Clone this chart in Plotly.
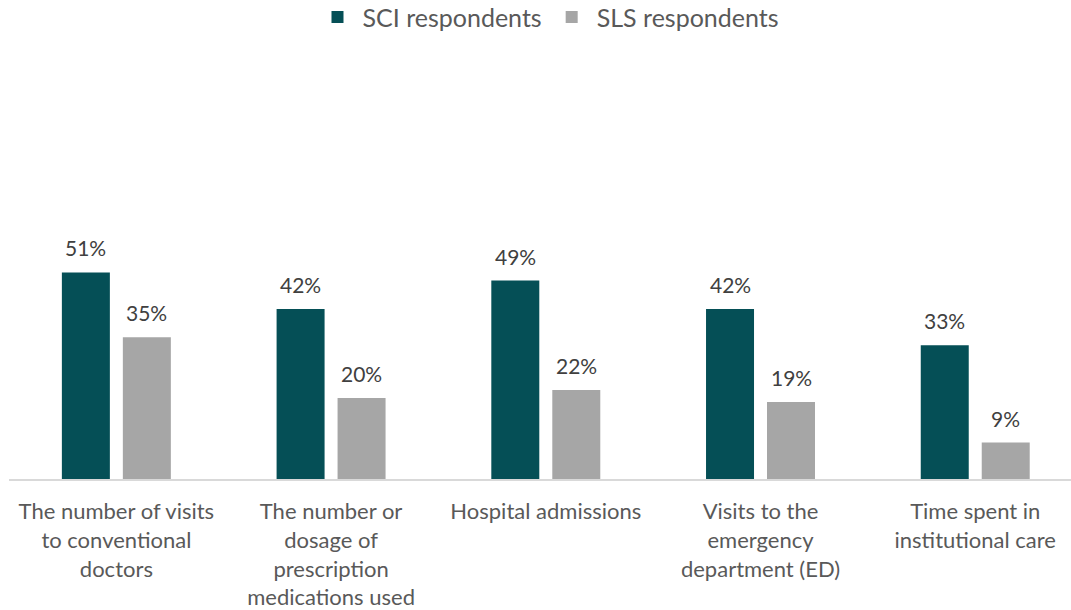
import plotly.graph_objects as go

categories = [
    "The number of visits<br>to conventional<br>doctors",
    "The number or<br>dosage of<br>prescription<br>medications used",
    "Hospital admissions",
    "Visits to the<br>emergency<br>department (ED)",
    "Time spent in<br>institutional care",
]
sci_values = [51, 42, 49, 42, 33]
sls_values = [35, 20, 22, 19, 9]
series_names = ["SCI respondents", "SLS respondents"]
colors = ["#054F56", "#A6A6A6"]

FONT = "Lato, 'Open Sans', sans-serif"

fig = go.Figure()
for name, vals, col in zip(series_names, [sci_values, sls_values], colors):
    fig.add_trace(go.Bar(
        x=categories, y=vals, name=name,
        marker=dict(color=col, line=dict(width=0)),
        cliponaxis=False,
    ))

# data labels
for idx, vals in enumerate([sci_values, sls_values]):
    shift = -30.5 if idx == 0 else 30.5
    for c, v in zip(categories, vals):
        fig.add_annotation(
            x=c, y=v, text=f"{v}%", showarrow=False,
            xref="x", yref="y", xanchor="center", yanchor="bottom",
            xshift=shift, yshift=10,
            font=dict(family=FONT, size=21, color="#404040"),
        )

fig.update_layout(
    width=1071, height=610,
    margin=dict(l=9, r=0, t=74, b=131, autoexpand=False),
    paper_bgcolor="white", plot_bgcolor="white",
    barmode="group", bargap=0.432, bargroupgap=0.213,
    showlegend=True,
    legend=dict(
        orientation="h", x=0.508, xanchor="center", xref="paper",
        y=1.14, yanchor="middle",
        font=dict(family=FONT, size=25, color="#595959"),
        itemsizing="constant", traceorder="normal",
        itemwidth=40,
    ),
    xaxis=dict(
        type="category", range=[-0.5, 4.446], automargin=False,
        showline=True, linecolor="#D9D9D9", linewidth=2,
        showgrid=False, ticks="", zeroline=False,
        tickfont=dict(family=FONT, size=22, color="#595959"),
        ticklabelstandoff=12,
    ),
    yaxis=dict(
        range=[0, 100], visible=False, showgrid=False, zeroline=False,
        automargin=False,
    ),
)

fig.write_html("out.html")
